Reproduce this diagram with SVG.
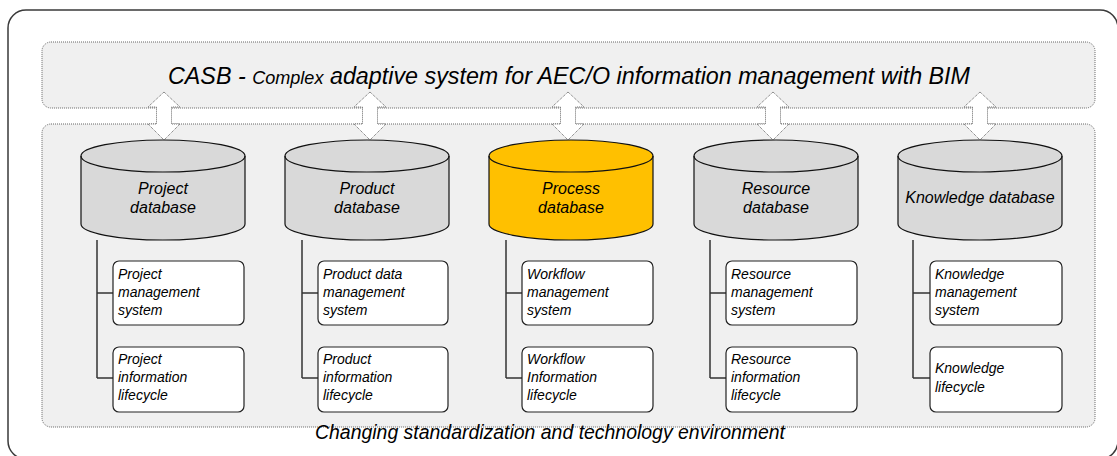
<svg xmlns="http://www.w3.org/2000/svg" width="1117" height="456" viewBox="0 0 1117 456">
<defs>
<style>
.frame{fill:#ffffff;stroke:#3a3a3a;stroke-width:1.5}
.panel{fill:#f0f0f0;stroke:#666;stroke-width:1;stroke-dasharray:1 1}
.arrow{fill:#ffffff;stroke:#666;stroke-width:1;stroke-dasharray:1 1}
.cyl{fill:#d9d9d9;stroke:#111;stroke-width:1.2}
.cylhl{fill:#ffc000;stroke:#111;stroke-width:1.2}
.rim{fill:none;stroke:#111;stroke-width:1.2}
.box{fill:#ffffff;stroke:#222;stroke-width:1.2}
.tree{fill:none;stroke:#333;stroke-width:1.5}
text{font-family:"Liberation Sans",Arial,sans-serif;font-style:italic;fill:#000}
.db{font-size:16px;text-anchor:middle}
.bx{font-size:14px}
</style>
</defs>
<rect class="frame" x="8" y="10" width="1110" height="449" rx="18"/>
<rect id="top-banner" class="panel" x="42" y="42" width="1053" height="66" rx="9"/>
<rect id="lower-panel" class="panel" x="42" y="124" width="1053" height="303" rx="9"/>
<text x="168" y="84" font-size="24.5" textLength="802" lengthAdjust="spacingAndGlyphs">CASB - <tspan font-size="19">Complex</tspan> adaptive system for AEC/O information management with BIM</text>
<text x="315" y="439" font-size="20" textLength="470" lengthAdjust="spacingAndGlyphs">Changing standardization and technology environment</text>
<g id="connectors">
<path class="arrow" d="M164,92 L180,107 L171.5,107 L171.5,124 L180,124 L164,140 L148,124 L156.5,124 L156.5,107 L148,107 Z"/>
<path class="arrow" d="M370,92 L386,107 L377.5,107 L377.5,124 L386,124 L370,140 L354,124 L362.5,124 L362.5,107 L354,107 Z"/>
<path class="arrow" d="M568,92 L584,107 L575.5,107 L575.5,124 L584,124 L568,140 L552,124 L560.5,124 L560.5,107 L552,107 Z"/>
<path class="arrow" d="M773,92 L789,107 L780.5,107 L780.5,124 L789,124 L773,140 L757,124 L765.5,124 L765.5,107 L757,107 Z"/>
<path class="arrow" d="M980,92 L996,107 L987.5,107 L987.5,124 L996,124 L980,140 L964,124 L972.5,124 L972.5,107 L964,107 Z"/>
<path class="tree" d="M97,240 V378 M97,293 H113 M97,378 H113"/>
<path class="tree" d="M302,240 V378 M302,293 H318 M302,378 H318"/>
<path class="tree" d="M506,240 V378 M506,293 H522 M506,378 H522"/>
<path class="tree" d="M710,240 V378 M710,293 H726 M710,378 H726"/>
<path class="tree" d="M913,240 V378 M913,293 H930 M913,378 H930"/>
</g>
<g id="project-db">
<path class="cyl" d="M81,156 A82,16 0 0 1 245,156 L245,224 A82,16 0 0 1 81,224 Z"/>
<path class="rim" d="M81,156 A82,16 0 0 0 245,156"/>
<text class="db" x="163" y="194">Project</text>
<text class="db" x="163" y="213">database</text>
</g>
<g id="product-db">
<path class="cyl" d="M285,156 A82,16 0 0 1 449,156 L449,224 A82,16 0 0 1 285,224 Z"/>
<path class="rim" d="M285,156 A82,16 0 0 0 449,156"/>
<text class="db" x="367" y="194">Product</text>
<text class="db" x="367" y="213">database</text>
</g>
<g id="process-db">
<path class="cylhl" d="M489,156 A82,16 0 0 1 653,156 L653,224 A82,16 0 0 1 489,224 Z"/>
<path class="rim" d="M489,156 A82,16 0 0 0 653,156"/>
<text class="db" x="571" y="194">Process</text>
<text class="db" x="571" y="213">database</text>
</g>
<g id="resource-db">
<path class="cyl" d="M694,156 A82,16 0 0 1 858,156 L858,224 A82,16 0 0 1 694,224 Z"/>
<path class="rim" d="M694,156 A82,16 0 0 0 858,156"/>
<text class="db" x="776" y="194">Resource</text>
<text class="db" x="776" y="213">database</text>
</g>
<g id="knowledge-db">
<path class="cyl" d="M898,156 A82,16 0 0 1 1062,156 L1062,224 A82,16 0 0 1 898,224 Z"/>
<path class="rim" d="M898,156 A82,16 0 0 0 1062,156"/>
<text class="db" x="980" y="203">Knowledge database</text>
</g>
<g id="project-mgmt">
<rect class="box" x="113" y="261" width="131" height="64" rx="6"/>
<text class="bx" x="118" y="279">Project</text>
<text class="bx" x="118" y="297">management</text>
<text class="bx" x="118" y="315">system</text>
</g>
<g id="project-life">
<rect class="box" x="113" y="347" width="131" height="65" rx="6"/>
<text class="bx" x="118" y="364">Project</text>
<text class="bx" x="118" y="382">information</text>
<text class="bx" x="118" y="400">lifecycle</text>
</g>
<g id="product-mgmt">
<rect class="box" x="318" y="261" width="130" height="64" rx="6"/>
<text class="bx" x="323" y="279">Product data</text>
<text class="bx" x="323" y="297">management</text>
<text class="bx" x="323" y="315">system</text>
</g>
<g id="product-life">
<rect class="box" x="318" y="347" width="130" height="65" rx="6"/>
<text class="bx" x="323" y="364">Product</text>
<text class="bx" x="323" y="382">information</text>
<text class="bx" x="323" y="400">lifecycle</text>
</g>
<g id="workflow-mgmt">
<rect class="box" x="522" y="261" width="131" height="64" rx="6"/>
<text class="bx" x="527" y="279">Workflow</text>
<text class="bx" x="527" y="297">management</text>
<text class="bx" x="527" y="315">system</text>
</g>
<g id="workflow-life">
<rect class="box" x="522" y="347" width="131" height="65" rx="6"/>
<text class="bx" x="527" y="364">Workflow</text>
<text class="bx" x="527" y="382">Information</text>
<text class="bx" x="527" y="400">lifecycle</text>
</g>
<g id="resource-mgmt">
<rect class="box" x="726" y="261" width="131" height="64" rx="6"/>
<text class="bx" x="731" y="279">Resource</text>
<text class="bx" x="731" y="297">management</text>
<text class="bx" x="731" y="315">system</text>
</g>
<g id="resource-life">
<rect class="box" x="726" y="347" width="131" height="65" rx="6"/>
<text class="bx" x="731" y="364">Resource</text>
<text class="bx" x="731" y="382">information</text>
<text class="bx" x="731" y="400">lifecycle</text>
</g>
<g id="knowledge-mgmt">
<rect class="box" x="930" y="261" width="132" height="64" rx="6"/>
<text class="bx" x="935" y="279">Knowledge</text>
<text class="bx" x="935" y="297">management</text>
<text class="bx" x="935" y="315">system</text>
</g>
<g id="knowledge-life">
<rect class="box" x="930" y="347" width="132" height="65" rx="6"/>
<text class="bx" x="935" y="373">Knowledge</text>
<text class="bx" x="935" y="392">lifecycle</text>
</g>
</svg>
